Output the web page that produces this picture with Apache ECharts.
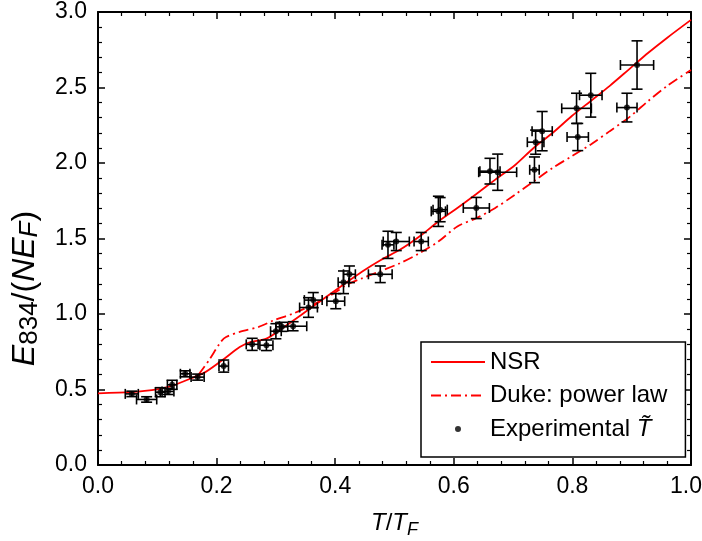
<!DOCTYPE html>
<html><head><meta charset="utf-8">
<script src="https://cdn.jsdelivr.net/npm/echarts@6/dist/echarts.min.js"></script>
<style>html,body{margin:0;padding:0;background:#fff}#c{width:702px;height:541px}</style>
</head><body><div id="c"></div>
<script>
// Experimental points: T/TF, E/(N EF), x error, y error
const expX = [0.057,0.082,0.105,0.118,0.125,0.147,0.168,0.212,0.260,0.284,0.300,0.310,0.329,0.355,0.363,0.401,0.414,0.424,0.476,0.489,0.503,0.545,0.574,0.577,0.638,0.661,0.674,0.736,0.738,0.749,0.807,0.809,0.831,0.892,0.909];
const expY = [0.471,0.434,0.482,0.487,0.531,0.604,0.582,0.655,0.799,0.793,0.886,0.915,0.919,1.043,1.092,1.085,1.210,1.263,1.263,1.458,1.480,1.480,1.680,1.691,1.702,1.946,1.939,1.955,2.138,2.211,2.362,2.172,2.449,2.367,2.649];
const expXErr = [0.011,0.017,0.008,0.010,0.008,0.008,0.011,0.008,0.010,0.011,0.009,0.010,0.023,0.015,0.015,0.015,0.009,0.010,0.020,0.010,0.022,0.012,0.012,0.012,0.022,0.017,0.032,0.008,0.014,0.017,0.025,0.018,0.019,0.017,0.028];
const expYErr = [0.018,0.018,0.030,0.020,0.030,0.020,0.020,0.040,0.040,0.035,0.050,0.030,0.030,0.065,0.050,0.050,0.075,0.055,0.055,0.090,0.060,0.060,0.100,0.080,0.070,0.085,0.120,0.085,0.080,0.130,0.100,0.090,0.145,0.095,0.160];

// NSR theory curve
const nsrX = [0,0.057,0.104,0.123,0.155,0.181,0.213,0.239,0.258,0.284,0.310,0.342,0.381,0.413,0.445,0.477,0.509,0.542,0.574,0.606,0.638,0.670,0.703,0.735,0.767,0.799,0.831,0.863,0.896,0.928,0.960,1.0];
const nsrY = [0.475,0.482,0.504,0.522,0.571,0.615,0.704,0.781,0.815,0.837,0.904,0.992,1.103,1.192,1.280,1.358,1.425,1.513,1.613,1.702,1.795,1.890,1.985,2.101,2.200,2.311,2.411,2.511,2.622,2.730,2.830,2.948];

// Duke power law curve
const dukeX = [0.170,0.187,0.207,0.216,0.239,0.271,0.297,0.329,0.361,0.393,0.419,0.445,0.477,0.509,0.542,0.574,0.606,0.638,0.670,0.703,0.735,0.767,0.799,0.831,0.863,0.896,0.928,0.960,1.0];
const dukeY = [0.600,0.693,0.815,0.848,0.881,0.915,0.959,1.003,1.059,1.125,1.192,1.236,1.285,1.336,1.402,1.480,1.580,1.635,1.702,1.790,1.879,1.968,2.045,2.123,2.211,2.304,2.411,2.511,2.616];

const xTicks = {min:0, max:1, interval:0.2};
const yTicks = {min:0, max:3, interval:0.5};

const FONT = 'Liberation Sans, Arial, sans-serif';
const FS = 23;   // tick labels
const FT = 24;   // x title and legend
const FY = 32;   // y title

const chart = echarts.init(document.getElementById('c'));

const axisCommon = {
  axisLine:{show:true, onZero:false, lineStyle:{color:'#000', width:2}},
  axisTick:{show:true, inside:true, length:7, lineStyle:{color:'#000', width:1.5}},
  minorTick:{show:true, splitNumber:5, length:4, lineStyle:{color:'#000', width:1.2}},
  splitLine:{show:false}
};

const option = {
  animation:false,
  textStyle:{fontFamily:FONT},
  grid:{left:98, right:11, top:12, bottom:76, containLabel:false, outerBoundsMode:'none'},
  xAxis:[
    Object.assign({type:'value', position:'bottom', min:xTicks.min, max:xTicks.max, interval:xTicks.interval,
      axisLabel:{color:'#000', fontSize:FS, fontFamily:FONT, margin:10,
        formatter:v=> v>=xTicks.max ? '{m|'+v.toFixed(1)+'}' : v.toFixed(1),
        rich:{m:{fontSize:FS, fontFamily:FONT, color:'#000', padding:[0,10,0,0]}}},
      name:'{i|T}{n|/}{i|T}{s|F}', nameLocation:'middle', nameGap:42,
      nameTextStyle:{rich:{
        i:{fontStyle:'italic', fontSize:FT, fontFamily:FONT, color:'#000', lineHeight:32, verticalAlign:'middle'},
        n:{fontSize:FT, fontFamily:FONT, color:'#000', lineHeight:32, verticalAlign:'middle'},
        s:{fontStyle:'italic', fontSize:18, fontFamily:FONT, color:'#000', lineHeight:32, verticalAlign:'bottom'}
      }}
    }, axisCommon),
    Object.assign({type:'value', position:'top', min:xTicks.min, max:xTicks.max, interval:xTicks.interval,
      axisLabel:{show:false}}, axisCommon)
  ],
  yAxis:[
    Object.assign({type:'value', position:'left', min:yTicks.min, max:yTicks.max, interval:yTicks.interval,
      axisLabel:{color:'#000', fontSize:FS, fontFamily:FONT, margin:11, formatter:v=>v.toFixed(1)},
      name:'{i|E}{s|834}{n|/(}{i|NE}{si|F}{n|)}', nameLocation:'middle', nameGap:55, nameRotate:90,
      nameTextStyle:{padding:[0,100,0,0], rich:{
        i:{fontStyle:'italic', fontSize:FY, fontFamily:FONT, color:'#000', lineHeight:36, verticalAlign:'middle'},
        n:{fontSize:FY, fontFamily:FONT, color:'#000', lineHeight:36, verticalAlign:'middle'},
        s:{fontSize:26, fontFamily:FONT, color:'#000', lineHeight:36, verticalAlign:'bottom'},
        si:{fontStyle:'italic', fontSize:26, fontFamily:FONT, color:'#000', lineHeight:36, verticalAlign:'bottom'}
      }}
    }, axisCommon),
    Object.assign({type:'value', position:'right', min:yTicks.min, max:yTicks.max, interval:yTicks.interval,
      axisLabel:{show:false}}, axisCommon)
  ],
  legend:{
    orient:'vertical', left:421, top:342,
    backgroundColor:'#fff', borderColor:'#000', borderWidth:1.5,
    padding:[7,18,15,9], itemGap:7.5, itemWidth:54, itemHeight:14,
    textStyle:{color:'#000', fontSize:FT, fontFamily:FONT, lineHeight:26,
      rich:{i:{fontStyle:'italic', fontSize:FT, fontFamily:FONT, color:'#000'}}},
    formatter:function(n){ return n==='Experimental' ? 'Experimental {i|T\u0303}' : n; },
    data:[
      {name:'NSR', itemStyle:{opacity:0}},
      {name:'Duke: power law', itemStyle:{opacity:0}},
      {name:'Experimental', icon:'path://M0,0L0.01,0L0,0.01Z M24,7 a3,3 0 1,0 6,0 a3,3 0 1,0 -6,0 Z M54,14L53.99,14L54,13.99Z', itemStyle:{color:'#000'}}
    ]
  },
  series:[
    {name:'NSR', type:'line', symbol:'none', smooth:0.3, z:3,
      lineStyle:{color:'#ff0000', width:1.8}, itemStyle:{color:'#ff0000'},
      data:nsrX.map((x,i)=>[x,nsrY[i]])},
    {name:'Duke: power law', type:'line', symbol:'none', smooth:0.3, z:3,
      lineStyle:{color:'#ff0000', width:1.8, type:[10,4,2,4]}, itemStyle:{color:'#ff0000'},
      data:dukeX.map((x,i)=>[x,dukeY[i]])},
    {name:'errbars', type:'custom', z:4, silent:true,
      renderItem:function(params, api){
        const x=api.value(0), y=api.value(1), ex=api.value(2), ey=api.value(3);
        const l=api.coord([x-ex,y]), r=api.coord([x+ex,y]);
        const t=api.coord([x,y+ey]), b=api.coord([x,y-ey]);
        const st={stroke:'#000', lineWidth:1.6};
        const cw=5.5, ch=5;
        return {type:'group', children:[
          {type:'line', shape:{x1:l[0],y1:l[1],x2:r[0],y2:r[1]}, style:st},
          {type:'line', shape:{x1:t[0],y1:t[1],x2:b[0],y2:b[1]}, style:st},
          {type:'line', shape:{x1:t[0]-cw,y1:t[1],x2:t[0]+cw,y2:t[1]}, style:st},
          {type:'line', shape:{x1:b[0]-cw,y1:b[1],x2:b[0]+cw,y2:b[1]}, style:st},
          {type:'line', shape:{x1:l[0],y1:l[1]-ch,x2:l[0],y2:l[1]+ch}, style:st},
          {type:'line', shape:{x1:r[0],y1:r[1]-ch,x2:r[0],y2:r[1]+ch}, style:st}
        ]};
      },
      data:expX.map((x,i)=>[x,expY[i],expXErr[i],expYErr[i]])},
    {name:'Experimental', type:'scatter', symbol:'circle', symbolSize:6, z:5,
      itemStyle:{color:'#000'},
      data:expX.map((x,i)=>[x,expY[i]])}
  ]
};
chart.setOption(option);
</script>
</body></html>
